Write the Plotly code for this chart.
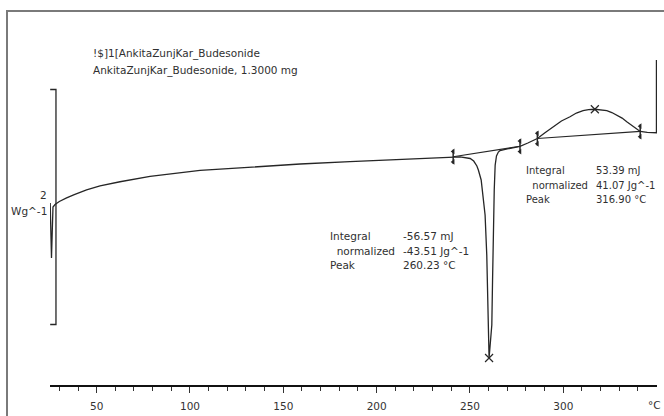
import numpy as np
import plotly.graph_objects as go

# ---- data (temperature in degC, heat flow in W/g, arbitrary offset) ----
temps = [25.1, 25.4, 25.8, 26.2, 26.6, 27.7, 30.0, 33.9, 38.0, 44.6, 51.8, 62.5, 78.6,
         105.4, 132.2, 159.0, 185.7, 212.5, 234.0, 241.0, 244.7, 250.1, 252.0, 253.7,
         254.5, 256.0, 257.2, 258.1, 259.0, 259.5, 259.9, 260.23, 260.6, 261.2, 261.7,
         262.1, 262.5, 263.0, 263.5, 264.2, 265.2, 266.1, 270.0, 276.8, 281.0, 286.1,
         290.0, 294.5, 299.0, 303.6, 307.0, 310.6, 313.5, 316.9, 319.5, 323.3, 326.0,
         328.7, 331.5, 334.0, 337.5, 341.2, 345.0, 349.9, 349.9]
flow = [0.017, -0.255, -0.451, -0.230, -0.017, 0.004, 0.030, 0.060, 0.089, 0.128, 0.162,
        0.198, 0.243, 0.294, 0.323, 0.349, 0.370, 0.390, 0.404, 0.411, 0.409, 0.396,
        0.374, 0.332, 0.298, 0.213, 0.043, -0.085, -0.425, -0.723, -0.979, -1.302,
        -1.234, -1.132, -1.021, -0.638, -0.170, 0.128, 0.340, 0.417, 0.451, 0.464,
        0.477, 0.500, 0.528, 0.566, 0.613, 0.666, 0.715, 0.751, 0.783, 0.803, 0.812,
        0.815, 0.812, 0.803, 0.787, 0.766, 0.740, 0.709, 0.668, 0.626, 0.619, 0.615,
        1.234]

limits_1 = [241.0, 276.8]
limits_2 = [286.1, 341.2]
peak_1 = 260.23
peak_2 = 316.9
scale_bar_wg = 2.0

header = ["!$]1[AnkitaZunjKar_Budesonide", "AnkitaZunjKar_Budesonide, 1.3000 mg"]
res1_labels = ["Integral", "  normalized", "Peak"]
res1_values = ["-56.57 mJ", "-43.51 Jg^-1", "260.23 °C"]
res2_labels = ["Integral", "  normalized", "Peak"]
res2_values = ["53.39 mJ", "41.07 Jg^-1", "316.90 °C"]
major_ticks = [50, 100, 150, 200, 250, 300]
minor_ticks = [30, 40, 60, 70, 80, 90, 110, 120, 130, 140, 160, 170, 180, 190, 210, 220,
               230, 240, 260, 270, 280, 290, 310, 320, 330, 340]

# ---- layout geometry ----
W, H = 664, 416
ML, MR, MT, MB = 50, 7, 0, 31
PW, PH = W - ML - MR, H - MT - MB
XR = [25, 350.2]
YR = [-1.532, 1.745]
PXY = PH / (YR[1] - YR[0])  # pixels per W/g

def px(xp):
    return (xp - ML) / PW

def py(yp):
    return (H - MB - yp) / PH

INK = "#262626"
FONT = "DejaVu Sans"

t_arr = np.array(temps)
f_arr = np.array(flow)

def val(t):
    # first-curve lookup (exclude final vertical point)
    return float(np.interp(t, t_arr[:-1], f_arr[:-1]))

fig = go.Figure()
fig.add_trace(go.Scatter(x=temps, y=flow, mode="lines",
                         line=dict(color=INK, width=1.3), hoverinfo="skip"))

# integration baselines
for lim in (limits_1, limits_2):
    fig.add_trace(go.Scatter(x=lim, y=[val(lim[0]), val(lim[1])], mode="lines",
                             line=dict(color=INK, width=1.2), hoverinfo="skip"))

# limit markers
dv = 7 / PXY
lx, ly, tx, ty = [], [], [], []
for t in limits_1 + limits_2:
    v = val(t)
    lx += [t, t, None]
    ly += [v + dv, v - dv, None]
    tx += [t, t]
    ty += [v + dv * 0.75, v - dv * 0.75]
fig.add_trace(go.Scatter(x=lx, y=ly, mode="lines", line=dict(color=INK, width=1.5),
                         hoverinfo="skip"))
fig.add_trace(go.Scatter(x=tx, y=ty, mode="markers",
                         marker=dict(symbol="triangle-left", size=5, color=INK),
                         hoverinfo="skip"))

# peak crosses
fig.add_trace(go.Scatter(x=[peak_1, peak_2], y=[val(peak_1), val(peak_2)], mode="markers",
                         marker=dict(symbol="x-thin", size=8,
                                     line=dict(color=INK, width=1.2)),
                         hoverinfo="skip"))

# scale bar (2 W/g)
sb_x = 28.2
sb_y0 = -1.017
sb_y1 = sb_y0 + scale_bar_wg
fig.add_trace(go.Scatter(x=[25.1, sb_x, sb_x, 25.1], y=[sb_y1, sb_y1, sb_y0, sb_y0],
                         mode="lines", line=dict(color=INK, width=1.3), hoverinfo="skip"))

shapes = [
    dict(type="line", xref="paper", yref="paper", x0=px(7), x1=px(7), y0=py(11), y1=py(420),
         line=dict(color="#7a7a7a", width=2)),
    dict(type="line", xref="paper", yref="paper", x0=px(6), x1=px(668), y0=py(11), y1=py(11),
         line=dict(color="#7a7a7a", width=2)),
]

ann = []
def text(s, x, y, xanchor="left", size=10.5):
    ann.append(dict(text=s, x=px(x), y=py(y), xref="paper", yref="paper",
                    xanchor=xanchor, yanchor="middle", showarrow=False,
                    font=dict(family=FONT, size=size, color="#303030")))

text(header[0], 91, 53)
text(header[1], 91, 71)
text("2", 43, 195, xanchor="center")
text("Wg^-1", 49, 211, xanchor="right")
for i in range(3):
    text(res1_labels[i], 328, 236 + 14.5 * i)
    text(res1_values[i], 401, 236 + 14.5 * i)
    text(res2_labels[i], 524, 170 + 15 * i, size=10)
    text(res2_values[i], 594, 170 + 15 * i, size=10)
text("°C", 654, 405, xanchor="center")

fig.update_layout(
    width=W, height=H, margin=dict(l=ML, r=MR, t=MT, b=MB),
    paper_bgcolor="white", plot_bgcolor="white", showlegend=False,
    shapes=shapes, annotations=ann,
    xaxis=dict(range=XR, showgrid=False, zeroline=False, showline=True,
               linecolor="#111", linewidth=1.5, ticks="outside", ticklen=6,
               tickcolor="#333", tickwidth=1, tickmode="array", tickvals=major_ticks,
               ticklabelstandoff=5,
               tickfont=dict(family=FONT, size=10.5, color="#333"),
               minor=dict(tickmode="array", tickvals=minor_ticks, ticks="outside",
                          ticklen=4, tickcolor="#333", tickwidth=1)),
    yaxis=dict(range=YR, visible=False),
)

fig.write_html("out.html", config={"displayModeBar": False, "staticPlot": True},
               post_script="document.body.style.margin='0';"
                           "document.body.style.overflow='hidden';")
